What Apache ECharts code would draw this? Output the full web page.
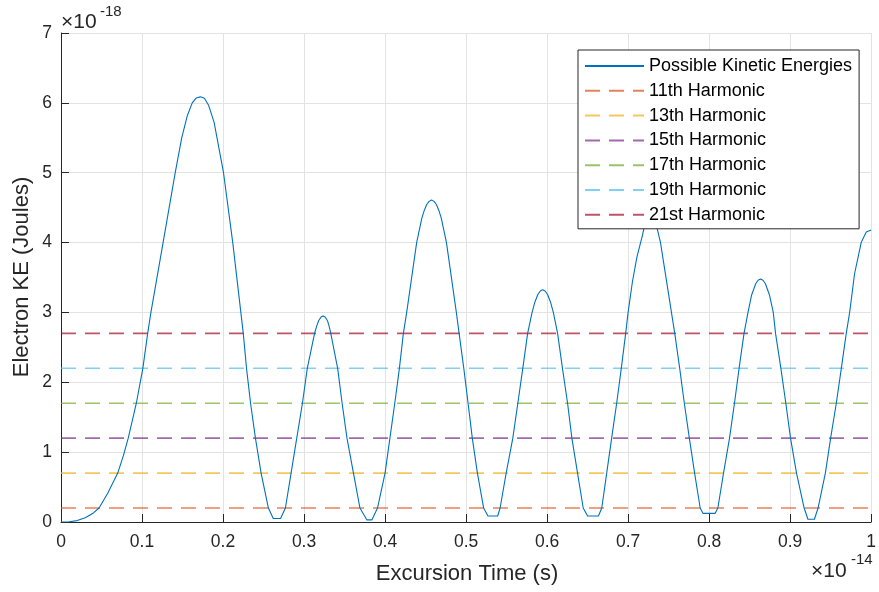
<!DOCTYPE html>
<html><head><meta charset="utf-8">
<script src="https://cdn.jsdelivr.net/npm/echarts@6/dist/echarts.min.js"></script>
<style>html,body{margin:0;padding:0;background:#fff}#c{width:879px;height:592px}</style>
</head><body><div id="c"></div>
<script>
// Excursion time (units of 1e-14 s)
const excursionTime = [
  0, 0.01, 0.02, 0.03, 0.04, 0.047, 0.058, 0.070, 0.077, 0.083, 0.093, 0.101, 0.107, 0.111, 0.126, 0.141, 0.149, 0.156, 0.162, 0.167, 0.172, 0.177, 0.182, 0.189, 0.2006,
  0.212, 0.222, 0.225, 0.229, 0.234, 0.240, 0.247, 0.256, 0.262, 0.271, 0.277, 0.284, 0.291, 0.298, 0.304, 0.313, 0.3155, 0.318, 0.321, 0.3235, 0.326, 0.329, 0.331, 0.333,
  0.3415, 0.347, 0.353, 0.361, 0.369, 0.3776, 0.3837, 0.3907, 0.400, 0.406, 0.412, 0.4177, 0.4226, 0.4267, 0.439, 0.4454, 0.4484, 0.4514, 0.4544, 0.4574, 0.4604, 0.4634, 0.4664, 0.4694, 0.4758,
  0.488, 0.4914, 0.4972, 0.5025, 0.5077, 0.514, 0.5217, 0.527, 0.539, 0.542, 0.5495, 0.5577, 0.5639, 0.570, 0.576, 0.5815, 0.585, 0.5886, 0.5916, 0.5946, 0.5976, 0.6006, 0.6042, 0.6077,
  0.613, 0.619, 0.6253, 0.6306, 0.6376, 0.6446, 0.650, 0.6634, 0.6675, 0.6736, 0.6797, 0.6859, 0.6916, 0.697, 0.700, 0.7055, 0.711, 0.7174, 0.7195, 0.7237, 0.7277, 0.7317, 0.7359, 0.740,
  0.7535, 0.7576, 0.7637, 0.7694, 0.7756, 0.7821, 0.789, 0.7924, 0.8075, 0.8108, 0.8178, 0.8252, 0.8313, 0.837, 0.8431, 0.848, 0.8525, 0.8575, 0.8605, 0.8635, 0.8665, 0.8695, 0.8745, 0.8792,
  0.882, 0.8886, 0.8947, 0.9005, 0.9079, 0.9173, 0.922, 0.930, 0.9345, 0.9435, 0.950, 0.957, 0.9632, 0.9693, 0.9735, 0.9795, 0.9877, 0.994, 1.0
];
// Electron kinetic energy (units of 1e-18 J)
const kineticEnergy = [
  0, 0.003, 0.02, 0.06, 0.13, 0.2, 0.42, 0.7, 0.95, 1.2, 1.7, 2.2, 2.7, 3.0, 4.0, 5.0, 5.5, 5.82, 6.0, 6.07, 6.086, 6.065, 5.97, 5.72, 5.0,
  4.0, 3.0, 2.7, 2.2, 1.7, 1.2, 0.7, 0.2, 0.05, 0.05, 0.2, 0.7, 1.2, 1.7, 2.2, 2.7, 2.8, 2.88, 2.935, 2.95, 2.935, 2.88, 2.8, 2.7,
  2.2, 1.7, 1.2, 0.7, 0.2, 0.03, 0.03, 0.2, 0.7, 1.2, 1.7, 2.2, 2.7, 3.0, 4.0, 4.35, 4.46, 4.545, 4.59, 4.61, 4.59, 4.545, 4.46, 4.35, 4.0,
  3.0, 2.7, 2.2, 1.7, 1.2, 0.7, 0.2, 0.086, 0.086, 0.2, 0.7, 1.2, 1.7, 2.2, 2.7, 3.0, 3.15, 3.256, 3.307, 3.324, 3.307, 3.256, 3.15, 3.0,
  2.7, 2.2, 1.7, 1.2, 0.7, 0.2, 0.086, 0.086, 0.2, 0.7, 1.2, 1.7, 2.2, 2.7, 3.0, 3.45, 3.8, 4.09, 4.2, 4.29, 4.32, 4.29, 4.2, 4.0,
  3.0, 2.7, 2.2, 1.7, 1.2, 0.7, 0.2, 0.124, 0.124, 0.2, 0.7, 1.2, 1.7, 2.2, 2.7, 3.0, 3.25, 3.41, 3.46, 3.477, 3.46, 3.41, 3.25, 3.0,
  2.7, 2.2, 1.7, 1.2, 0.7, 0.2, 0.04, 0.04, 0.2, 0.7, 1.2, 1.7, 2.2, 2.7, 3.0, 3.55, 4.0, 4.15, 4.18
];
const curveName = 'Possible Kinetic Energies';
const harmonicNames = ['11th Harmonic', '13th Harmonic', '15th Harmonic', '17th Harmonic', '19th Harmonic', '21st Harmonic'];
const harmonicLevels = [0.2, 0.7, 1.2, 1.7, 2.2, 2.7];
const harmonicColors = ['#D95319', '#EDB120', '#7E2F8E', '#77AC30', '#4DBEEE', '#A2142F'];
const xTickLabels = ['0', '0.1', '0.2', '0.3', '0.4', '0.5', '0.6', '0.7', '0.8', '0.9', '1'];
const yTickLabels = ['0', '1', '2', '3', '4', '5', '6', '7'];

const FONT = '"Liberation Sans", Arial, Helvetica, sans-serif';
const AX = '#262626';
const chart = echarts.init(document.getElementById('c'), null, {renderer: 'canvas'});

const series = [{
  name: curveName, type: 'line', showSymbol: false, symbol: 'none', z: 3, smooth: false,
  data: excursionTime.map((t, i) => [t, kineticEnergy[i]]),
  lineStyle: {color: '#0072BD', width: 1.1, join: 'round'}, itemStyle: {color: '#0072BD'}
}];
harmonicNames.forEach((n, i) => {
  series.push({
    name: n, type: 'line', showSymbol: false, symbol: 'none', z: 2,
    data: [[0, harmonicLevels[i]], [1, harmonicLevels[i]]],
    lineStyle: {color: harmonicColors[i], width: 1.6, type: [15, 9], opacity: 0.72},
    itemStyle: {color: harmonicColors[i]}
  });
});

chart.setOption({
  animation: false,
  backgroundColor: '#fff',
  grid: {left: 61, right: 4, top: 33, bottom: 70, containLabel: false},
  xAxis: {
    type: 'value', min: 0, max: 1, interval: 0.1,
    axisLine: {show: true, onZero: false, lineStyle: {color: AX, width: 1}},
    axisTick: {show: true, inside: true, length: 8, lineStyle: {color: AX}},
    axisLabel: {color: AX, fontSize: 17.5, fontFamily: FONT, margin: 11,
      formatter: v => xTickLabels[Math.round(v * 10)]},
    splitLine: {show: true, lineStyle: {color: '#e3e3e3', width: 1}}
  },
  yAxis: {
    type: 'value', min: 0, max: 7, interval: 1,
    axisLine: {show: true, onZero: false, lineStyle: {color: AX, width: 1}},
    axisTick: {show: true, inside: true, length: 8, lineStyle: {color: AX}},
    axisLabel: {color: AX, fontSize: 17.5, fontFamily: FONT, margin: 9,
      formatter: v => yTickLabels[Math.round(v)]},
    splitLine: {show: true, lineStyle: {color: '#e3e3e3', width: 1}}
  },
  legend: {
    data: [curveName].concat(harmonicNames),
    orient: 'vertical', left: 578, top: 50,
    itemWidth: 59, itemHeight: 14, itemGap: 6.8,
    itemStyle: {opacity: 0},
    backgroundColor: '#fff', borderColor: AX, borderWidth: 1, borderRadius: 0,
    padding: [7, 7, 5, 6],
    textStyle: {fontSize: 18, lineHeight: 18, color: '#000', fontFamily: FONT},
    selectedMode: false
  },
  graphic: [
    {type: 'text', left: 61, top: 12, style: {text: '×10', fontSize: 21, fill: AX, fontFamily: FONT}},
    {type: 'text', left: 100, top: 4, style: {text: '-18', fontSize: 15, fill: AX, fontFamily: FONT}},
    {type: 'text', left: 811, top: 561, style: {text: '×10', fontSize: 21, fill: AX, fontFamily: FONT}},
    {type: 'text', left: 851, top: 552, style: {text: '-14', fontSize: 15, fill: AX, fontFamily: FONT}},
    {type: 'text', x: 467, y: 574, style: {text: 'Excursion Time (s)', fontSize: 22, fill: AX, fontFamily: FONT, align: 'center', verticalAlign: 'middle'}},
    {type: 'text', x: 22, y: 277, rotation: Math.PI / 2, style: {text: 'Electron KE (Joules)', fontSize: 22, fill: AX, fontFamily: FONT, align: 'center', verticalAlign: 'middle'}}
  ],
  series: series
});
</script>
</body></html>
